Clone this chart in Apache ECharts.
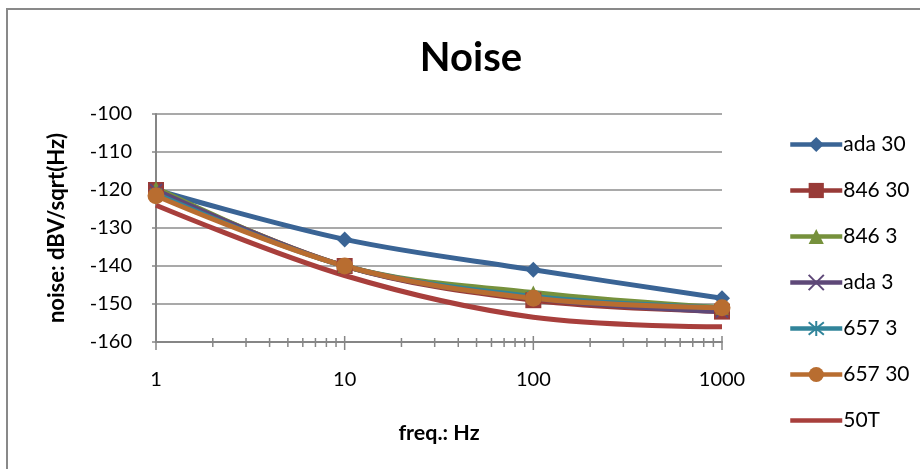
<!DOCTYPE html>
<html><head><meta charset="utf-8">
<script src="https://cdn.jsdelivr.net/npm/echarts@6/dist/echarts.min.js"></script>
<style>html,body{margin:0;padding:0;background:#fff}#c{width:920px;height:469px}</style>
</head><body><div id="c"></div>
<script>
const freqs = [1, 10, 100, 1000];
const ada30 = [-120, -133, -141, -148.5];
const s846_30 = [-120, -140, -149, -152];
const s846_3 = [-119.5, -140, -147, -151];
const ada3 = [-120, -140, -148.5, -152];
const s657_3 = [-121, -140, -148, -151];
const s657_30 = [-121.5, -140, -148.5, -151];
const t50 = [-124, -142.5, -153.5, -156];
const majorTicks = [1, 10, 100, 1000];
const minorTicks = [2,3,4,5,6,7,8,9,20,30,40,50,60,70,80,90,200,300,400,500,600,700,800,900];
const yTicks = [-100,-110,-120,-130,-140,-150,-160];

const FONT = 'Lato';
const pts = arr => freqs.map((f, i) => [f, arr[i]]);
const xPath = 'path://M0,0 L10,10 M10,0 L0,10';
const starPath = 'path://M0,0 L10,10 M10,0 L0,10 M5,-1 L5,11';

function lineSeries(name, data, color, symbol, size, extra) {
  return Object.assign({
    name, type: 'line', data: pts(data), smooth: 0.35,
    symbol, symbolSize: size, showSymbol: symbol !== 'none',
    lineStyle: { color, width: 5 },
    itemStyle: { color, borderColor: color, borderWidth: 0 },
    emphasis: { disabled: true }, z: 3
  }, extra || {});
}

function tickSeries(vals, up, down) {
  return {
    type: 'custom', silent: true, clip: false, z: 4,
    data: vals.map(v => [v, -160]),
    renderItem: (params, api) => {
      const p = api.coord([api.value(0), api.value(1)]);
      return { type: 'line', shape: { x1: p[0], y1: p[1] - up, x2: p[0], y2: p[1] + down },
        style: { stroke: '#868686', lineWidth: 1.5 } };
    }
  };
}

const chart = echarts.init(document.getElementById('c'));
chart.setOption({
  animation: false,
  backgroundColor: '#fff',
  textStyle: { fontFamily: FONT },
  graphic: [{ type: 'rect', shape: { x: 7, y: 9, width: 1000, height: 1000 },
    style: { fill: 'none', stroke: '#898989', lineWidth: 2 }, silent: true }],
  title: { text: 'Noise', left: 466, top: 33, textAlign: 'center',
    textStyle: { fontFamily: FONT, fontSize: 40, fontWeight: 'bold', color: '#000' } },
  grid: { left: 156, right: 198, top: 114, bottom: 127 },
  legend: {
    orient: 'vertical', left: 783, top: 129, itemWidth: 52, itemHeight: 19, itemGap: 25,
    lineStyle: { width: 4.5 },
    textStyle: { fontFamily: FONT, fontSize: 21, color: '#000', padding: [0,0,0,-4] },
    data: ['ada 30', '846 30', '846 3', 'ada 3', '657 3', '657 30',
      { name: '50T', icon: 'path://M0,0 L52,0 L52,4.5 L0,4.5 Z' }]
  },
  xAxis: {
    type: 'log', logBase: 10, min: 1, max: 1000,
    name: 'freq.: Hz', nameLocation: 'middle', nameGap: 80,
    nameTextStyle: { fontFamily: FONT, fontSize: 21.5, fontWeight: 'bold', color: '#000' },
    axisLine: { lineStyle: { color: '#868686', width: 2 } },
    axisTick: { show: false },
    splitLine: { show: false },
    axisLabel: { fontFamily: FONT, fontSize: 20, color: '#000', margin: 28,
      formatter: v => majorTicks.includes(v) ? String(v) : '' }
  },
  yAxis: {
    type: 'value', min: -160, max: -100, interval: 10,
    name: 'noise: dBV/sqrt(Hz)', nameLocation: 'middle', nameGap: 88,
    nameTextStyle: { fontFamily: FONT, fontSize: 22, fontWeight: 'bold', color: '#000' },
    axisLine: { show: true, lineStyle: { color: '#868686', width: 2 } },
    axisTick: { show: true, length: 4, lineStyle: { color: '#868686', width: 1.5 } },
    splitLine: { lineStyle: { color: '#8c8c8c', width: 1.5 } },
    axisLabel: { fontFamily: FONT, fontSize: 20, color: '#000', margin: 24,
      formatter: v => yTicks.includes(v) ? String(v) : '' }
  },
  series: [
    lineSeries('ada 30', ada30, '#3A6495', 'diamond', 16),
    lineSeries('846 30', s846_30, '#983A37', 'rect', 16),
    lineSeries('846 3', s846_3, '#76913C', 'triangle', 14),
    lineSeries('ada 3', ada3, '#5E4878', xPath, 12, { itemStyle: { color: '#5E4878', borderColor: '#5E4878', borderWidth: 2 } }),
    lineSeries('657 3', s657_3, '#31849A', starPath, 12, { itemStyle: { color: '#31849A', borderColor: '#31849A', borderWidth: 2 } }),
    lineSeries('657 30', s657_30, '#B86D30', 'circle', 17),
    lineSeries('50T', t50, '#A83F3C', 'none', 0),
    tickSeries(majorTicks, 6, 8),
    tickSeries(minorTicks, 4, 5)
  ]
});
</script></body></html>
